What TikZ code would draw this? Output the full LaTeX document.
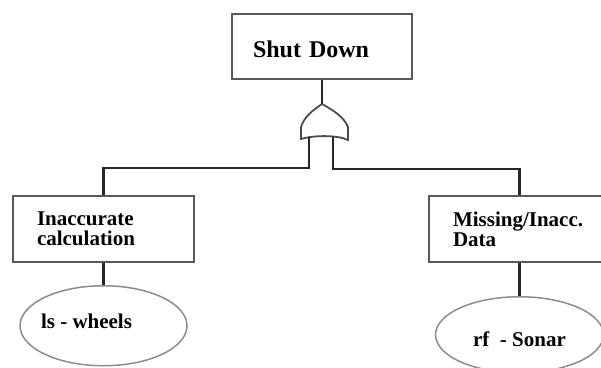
\documentclass[tikz,border=0pt]{standalone}
\usepackage{fontspec}
\setmainfont{Liberation Serif}
\usetikzlibrary{shapes, positioning}

\begin{document}
\begin{tikzpicture}[
    x=1pt, y=1pt,
    top/.style={rectangle, draw=black!65, line width=2pt, minimum height=65pt,
    text width=138pt, inner xsep=21pt, inner ysep=0pt, align=left,
    text height=23pt, font=\fontsize{24}{24}\selectfont\bfseries},
    event/.style={rectangle, draw=black!65, line width=2pt, minimum height=66pt,
    text width=133pt, inner xsep=24pt, inner ysep=0pt, align=left,
    font=\fontsize{21}{20}\selectfont\bfseries},
    basic/.style={ellipse, draw=black!45, line width=1.5pt, inner sep=0pt,
    font=\fontsize{21}{20}\selectfont\bfseries},
    wire/.style={line width=2.2pt, draw=black!85},
    gate/.style={line width=1.8pt, draw=black!70, fill=white}
]
\useasboundingbox (0,0) rectangle (601,-367);

% Nodes
\node[top] (shutdown) at (322,-46.5) {Shut Down};

\node[event, below=115pt of shutdown, xshift=-218.5pt] (calc) {%
  Inaccurate \\ calculation};
\node[event, below=115pt of shutdown, xshift=197.5pt] (missing) {%
  Missing/Inacc. \\ Data};

\node[basic, below=22pt of calc, minimum width=167pt, minimum height=80pt,
  text height=14.5pt, text depth=8.5pt] (ls) {\hspace*{-34pt}ls - wheels};
\node[basic, below=33pt of missing, minimum width=168pt, minimum height=76pt,
  text height=24pt, text depth=0pt] (rf) {rf~ - Sonar};

% OR gate
\coordinate (gtop) at (322,-104);
\coordinate (gin1) at (309,-137);
\coordinate (gin2) at (333,-137);
\draw[gate] (301,-139) -- (301,-127)
  .. controls (304,-117) and (313,-110) .. (gtop)
  .. controls (333,-110) and (344,-117) .. (348,-127) -- (348,-140)
  .. controls (338,-135) and (314,-135) .. (301,-139) -- cycle;

% Lines
\draw[wire] (shutdown.south) -- (gtop);
\draw[wire] (gin1) -- ++(0,-31) -| (calc.north);
\draw[wire] (gin2) -- ++(0,-32) -| (missing.north);
\draw[wire] (calc) -- (ls);
\draw[wire] (missing) -- (rf);

\end{tikzpicture}
\end{document}
